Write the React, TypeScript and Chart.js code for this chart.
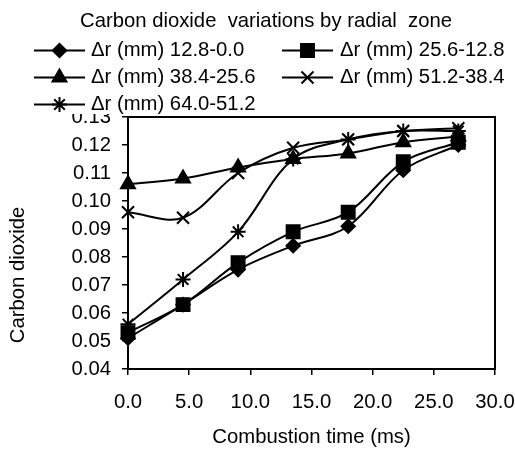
import React, { useEffect, useRef } from "react";
import { Chart, registerables } from "chart.js";

Chart.register(...registerables);

const TITLE = "Carbon dioxide  variations by radial  zone";
const X_TITLE = "Combustion time (ms)";
const Y_TITLE = "Carbon dioxide";

const timeMs = [0, 4.5, 9, 13.5, 18, 22.5, 27];
const seriesLabels = [
  "Δr (mm) 12.8-0.0",
  "Δr (mm) 25.6-12.8",
  "Δr (mm) 38.4-25.6",
  "Δr (mm) 51.2-38.4",
  "Δr (mm) 64.0-51.2",
];
const zone12_8 = [0.051, 0.063, 0.0755, 0.084, 0.091, 0.111, 0.12];
const zone25_6 = [0.053, 0.063, 0.078, 0.089, 0.096, 0.114, 0.121];
const zone38_4 = [0.106, 0.108, 0.112, 0.115, 0.117, 0.121, 0.123];
const zone51_2 = [0.096, 0.094, 0.11, 0.119, 0.122, 0.125, 0.126];
const zone64_0 = [0.056, 0.072, 0.089, 0.115, 0.122, 0.125, 0.125];
const seriesValues = [zone12_8, zone25_6, zone38_4, zone51_2, zone64_0];

const pointStyles = ["rectRot", "rect", "triangle", "crossRot", "star"];
const pointRadii = [7, 9.5, 8.5, 8.5, 7.5];

const FONT = "'Liberation Sans', Arial, sans-serif";
const FS = 20.3;

function drawMarker(ctx: CanvasRenderingContext2D, style: string, r: number, x: number, y: number) {
  ctx.save();
  ctx.beginPath();
  ctx.fillStyle = "#000";
  ctx.strokeStyle = "#000";
  ctx.lineWidth = 1.5;
  let fill = true;
  if (style === "rectRot") {
    ctx.moveTo(x - r, y);
    ctx.lineTo(x, y - r);
    ctx.lineTo(x + r, y);
    ctx.lineTo(x, y + r);
    ctx.closePath();
  } else if (style === "rect") {
    const s = Math.SQRT1_2 * r;
    ctx.rect(x - s, y - s, 2 * s, 2 * s);
  } else if (style === "triangle") {
    const a = (2 * Math.PI) / 3;
    ctx.moveTo(x, y - r);
    ctx.lineTo(x + Math.sin(a) * r, y - Math.cos(a) * r);
    ctx.lineTo(x + Math.sin(2 * a) * r, y - Math.cos(2 * a) * r);
    ctx.closePath();
  } else {
    fill = false;
    ctx.lineWidth = 2;
    const o = Math.SQRT1_2 * r;
    ctx.moveTo(x - o, y - o);
    ctx.lineTo(x + o, y + o);
    ctx.moveTo(x + o, y - o);
    ctx.lineTo(x - o, y + o);
    if (style === "star") {
      ctx.moveTo(x - r, y);
      ctx.lineTo(x + r, y);
      ctx.moveTo(x, y - r);
      ctx.lineTo(x, y + r);
    }
  }
  if (fill) ctx.fill();
  ctx.stroke();
  ctx.restore();
}

const legendPos = [
  { lx: 34, tx: 91, y: 50.5 },
  { lx: 282, tx: 340, y: 50.5 },
  { lx: 34, tx: 91, y: 77.5 },
  { lx: 282, tx: 340, y: 77.5 },
  { lx: 34, tx: 91, y: 104.5 },
];

const decorPlugin = {
  id: "decor",
  beforeDatasetsDraw(chart: any) {
    const { ctx, chartArea } = chart;
    ctx.save();
    ctx.strokeStyle = "#000";
    ctx.lineWidth = 2;
    ctx.strokeRect(chartArea.left, chartArea.top, chartArea.right - chartArea.left, chartArea.bottom - chartArea.top);
    ctx.restore();
  },
  afterDraw(chart: any) {
    const { ctx, chartArea } = chart;
    ctx.save();
    ctx.fillStyle = "#fff";
    ctx.fillRect(0, 0, chart.width, 114);
    ctx.fillStyle = "#000";
    ctx.font = `${FS}px ${FONT}`;
    ctx.textBaseline = "middle";
    ctx.textAlign = "center";
    ctx.fillText(TITLE, 266, 21);
    ctx.textAlign = "left";
    seriesLabels.forEach((label, i) => {
      const p = legendPos[i];
      ctx.beginPath();
      ctx.strokeStyle = "#000";
      ctx.lineWidth = 2;
      ctx.moveTo(p.lx, p.y);
      ctx.lineTo(p.lx + 51, p.y);
      ctx.stroke();
      drawMarker(ctx, pointStyles[i], pointRadii[i], p.lx + 25.5, p.y);
      ctx.fillStyle = "#000";
      ctx.fillText(label, p.tx, p.y);
    });
    ctx.textAlign = "center";
    ctx.fillText(X_TITLE, (chartArea.left + chartArea.right) / 2, 437);
    ctx.translate(18, 275);
    ctx.rotate(-Math.PI / 2);
    ctx.fillText(Y_TITLE, 0, 0);
    ctx.restore();
  },
};

export default function App() {
  const ref = useRef<HTMLCanvasElement | null>(null);
  useEffect(() => {
    if (!ref.current) return;
    const chart = new Chart(ref.current, {
      type: "line",
      data: {
        datasets: seriesLabels.map((label, i) => ({
          label,
          data: timeMs.map((t, j) => ({ x: t, y: seriesValues[i][j] })),
          borderColor: "#000",
          backgroundColor: "#000",
          borderWidth: 2,
          pointStyle: pointStyles[i] as any,
          pointRadius: pointRadii[i],
          pointHoverRadius: pointRadii[i],
          pointBorderWidth: i >= 3 ? 2 : 1.5,
          pointBackgroundColor: "#000",
          pointBorderColor: "#000",
          tension: 0.35,
          clip: false as any,
          fill: false,
        })),
      },
      options: {
        responsive: false,
        animation: false,
        layout: { padding: { left: 68, top: 117, right: 20, bottom: 0 } },
        plugins: { legend: { display: false }, title: { display: false }, tooltip: { enabled: false } },
        scales: {
          x: {
            type: "linear",
            min: 0,
            max: 30,
            afterFit: (s: any) => { s.height = 80; s.paddingLeft = 0; s.paddingRight = 0; },
            ticks: {
              stepSize: 5,
              color: "#000",
              padding: 15,
              font: { family: FONT, size: FS },
              maxRotation: 0,
              callback: (v: any) => Number(v).toFixed(1),
            },
            grid: { drawOnChartArea: false, drawTicks: true, tickLength: 6, color: "#000", lineWidth: 1.5 },
            border: { color: "#000", width: 2 },
          },
          y: {
            type: "linear",
            min: 0.04,
            max: 0.13,
            afterFit: (s: any) => { s.width = 60; s.paddingTop = 0; s.paddingBottom = 0; },
            ticks: {
              stepSize: 0.01,
              color: "#000",
              padding: 11,
              font: { family: FONT, size: FS },
              callback: (v: any) => Number(v).toFixed(2),
            },
            grid: { drawOnChartArea: false, drawTicks: true, tickLength: 6, color: "#000", lineWidth: 1.5 },
            border: { color: "#000", width: 2 },
          },
        },
      },
      plugins: [decorPlugin],
    });
    return () => chart.destroy();
  }, []);
  return (
    <div style={{ position: "absolute", left: 0, top: 0, width: 515, height: 449, background: "#fff" }}>
      <canvas ref={ref} width={515} height={449} style={{ display: "block" }} />
    </div>
  );
}
